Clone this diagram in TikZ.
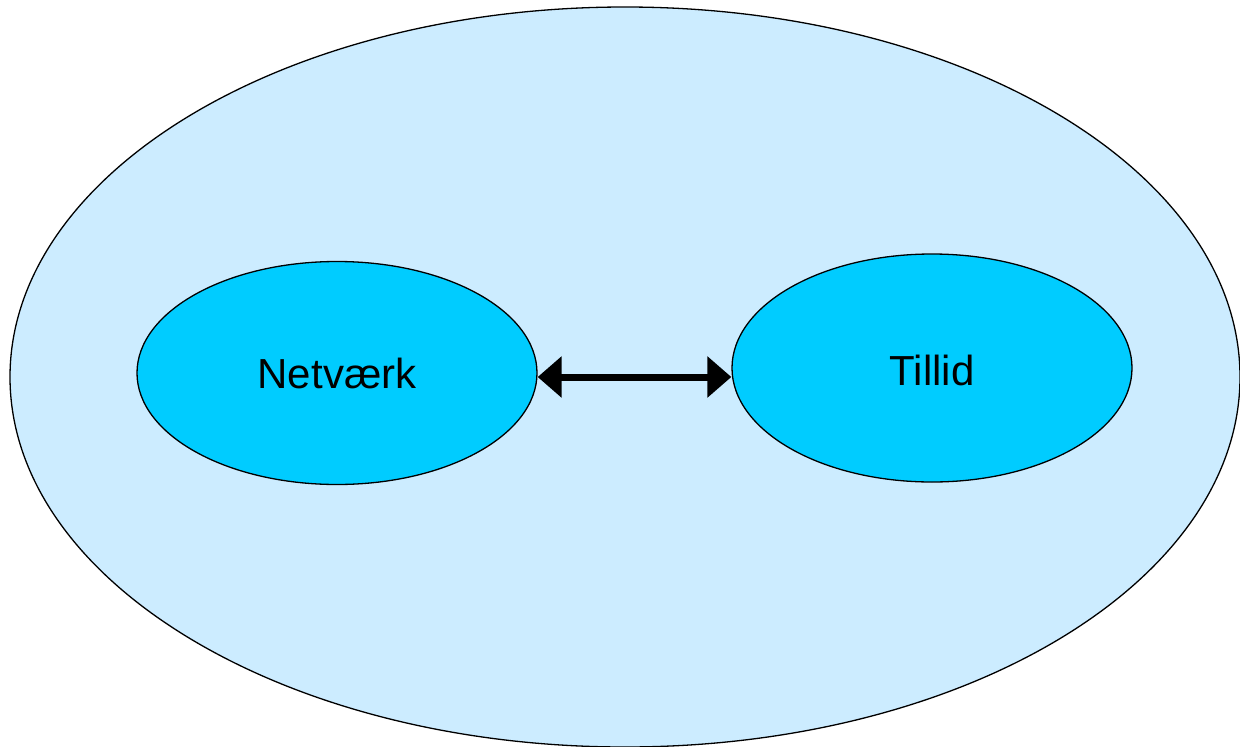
\documentclass[tikz,border=0pt]{standalone}
\usepackage{fontspec}
\setmainfont{Liberation Sans}
\usetikzlibrary{shapes.geometric,arrows.meta}
\definecolor{outerblue}{HTML}{CCECFF}
\definecolor{innerblue}{HTML}{00CCFF}
\tikzset{
  field/.style={ellipse,draw=black,line width=1.3pt,fill=outerblue,inner sep=0pt},
  concept/.style={ellipse,draw=black,line width=1.3pt,fill=innerblue,inner sep=0pt},
  label/.style={font=\fontsize{42}{48}\selectfont},
  link/.style={line width=7pt,{Triangle[length=24pt,width=40pt]}-{Triangle[length=24pt,width=40pt]}}
}
\begin{document}
\begin{tikzpicture}[x=1pt,y=-1pt]
\useasboundingbox (0,0) rectangle (1240,747);
\node[field,minimum width=1230pt,minimum height=740pt] (outer) at (625,377) {};
\node[concept,minimum width=400pt,minimum height=223pt] (net) at (337,373) {};
\node[concept,minimum width=400pt,minimum height=228pt] (trust) at (932,368) {};
\node[label] (nettxt) at (337,373) {Netværk};
\node[label] (trusttxt) at (932,370) {Tillid};
\draw[link] (net.east |- 0,377) -- (trust.west |- 0,377);
\end{tikzpicture}
\end{document}
